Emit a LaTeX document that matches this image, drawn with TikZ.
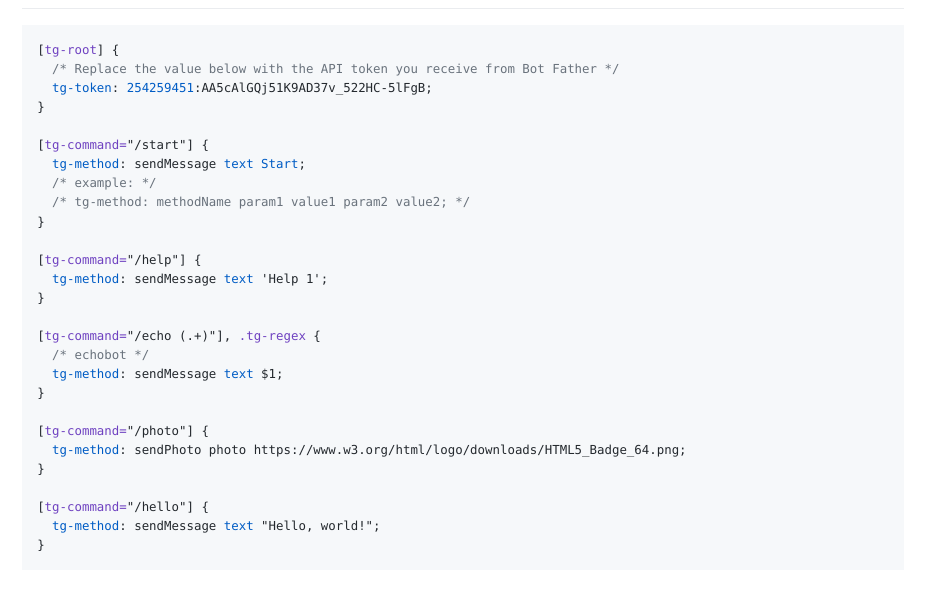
\documentclass[tikz,border=0pt]{standalone}
\usepackage{fontspec}
\setmonofont{DejaVu Sans Mono}
\definecolor{cpurple}{HTML}{6F42C1}
\definecolor{cblue}{HTML}{005CC5}
\definecolor{cgray}{HTML}{6A737D}
\definecolor{ctext}{HTML}{24292E}
\definecolor{cbg}{HTML}{F6F8FA}
\definecolor{crule}{HTML}{EAECEF}
\newcommand{\kp}[1]{\textcolor{cpurple}{#1}}
\newcommand{\kb}[1]{\textcolor{cblue}{#1}}
\newcommand{\kc}[1]{\textcolor{cgray}{#1}}
\newcommand{\ind}{\phantom{xx}}
\begin{document}
\begin{tikzpicture}[x=0.75pt,y=-0.75pt,
  codeline/.style={anchor=base west, inner sep=0pt, text=ctext,
    font=\ttfamily\fontsize{9.3pt}{11pt}\selectfont}]
\useasboundingbox (0,0) rectangle (928,599);
\fill[white] (0,0) rectangle (928,599);
\draw[crule, line width=0.75pt] (22,8.5) -- (904,8.5);
\fill[cbg] (22,25) rectangle (904,570);
\node[codeline] (l1) at (37,55) {[\kp{tg-root}] \{};
\node[codeline] (l2) at (37,74) {\ind\kc{/* Replace the value below with the API token you receive from Bot Father */}};
\node[codeline] (l3) at (37,93) {\ind\kb{tg-token}: \kb{254259451}:AA5cAlGQj51K9AD37v\_522HC-5lFgB;};
\node[codeline] (l4) at (37,112) {\}};
\node[codeline] (l6) at (37,150) {[\kp{tg-command=}"/start"] \{};
\node[codeline] (l7) at (37,169) {\ind\kb{tg-method}: sendMessage \kb{text} \kb{Start};};
\node[codeline] (l8) at (37,188) {\ind\kc{/* example: */}};
\node[codeline] (l9) at (37,207) {\ind\kc{/* tg-method: methodName param1 value1 param2 value2; */}};
\node[codeline] (l10) at (37,226) {\}};
\node[codeline] (l12) at (37,264) {[\kp{tg-command=}"/help"] \{};
\node[codeline] (l13) at (37,283) {\ind\kb{tg-method}: sendMessage \kb{text} 'Help 1';};
\node[codeline] (l14) at (37,302) {\}};
\node[codeline] (l16) at (37,340) {[\kp{tg-command=}"/echo (.+)"], \kp{.tg-regex} \{};
\node[codeline] (l17) at (37,359) {\ind\kc{/* echobot */}};
\node[codeline] (l18) at (37,378) {\ind\kb{tg-method}: sendMessage \kb{text} \$1;};
\node[codeline] (l19) at (37,397) {\}};
\node[codeline] (l21) at (37,435) {[\kp{tg-command=}"/photo"] \{};
\node[codeline] (l22) at (37,454) {\ind\kb{tg-method}: sendPhoto photo https://www.w3.org/html/logo/downloads/HTML5\_Badge\_64.png;};
\node[codeline] (l23) at (37,473) {\}};
\node[codeline] (l25) at (37,511) {[\kp{tg-command=}"/hello"] \{};
\node[codeline] (l26) at (37,530) {\ind\kb{tg-method}: sendMessage \kb{text} "Hello, world!";};
\node[codeline] (l27) at (37,549) {\}};
\end{tikzpicture}
\end{document}
